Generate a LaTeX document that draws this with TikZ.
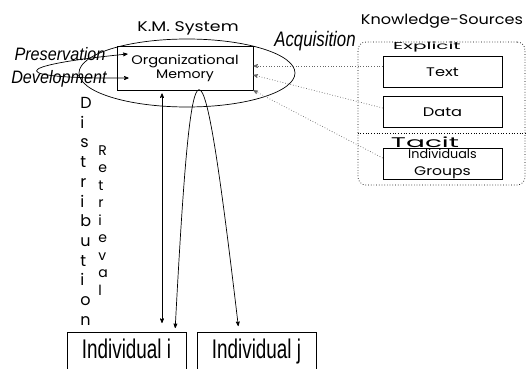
\documentclass[tikz,border=0pt]{standalone}
\usepackage{graphicx}
\usepackage{fontspec}
\setmainfont{Poppins}
\newfontfamily\arialfont{Liberation Sans}
\usetikzlibrary{positioning, arrows, shapes.geometric}
\tikzset{>=stealth', node distance = 40pt, every node/.style={inner sep=0pt},
  box/.style={draw, rectangle, minimum width=119pt, minimum height=31pt, align=center, font=\fontsize{12.5}{17}\selectfont},
  person/.style={draw, rectangle, anchor=north, minimum width=119pt, inner ysep=7pt, text depth=30pt, font=\arialfont\fontsize{27}{27}\selectfont},
  phase/.style={anchor=base, font=\arialfont\itshape\fontsize{18}{18}\selectfont},
  source/.style={->, dotted, black!60},
  letters/.style={anchor=north west, align=left}}
\newcommand{\narrow}[1]{\scalebox{0.7}[1]{#1}}
\newcommand{\wide}[2][1.25]{\scalebox{#1}[1]{#2}}

\begin{document}
\begin{tikzpicture}[x=1pt, y=-1pt, line width=0.7pt]
    \useasboundingbox (0,0) rectangle (528,369);
    \clip (0,0) rectangle (528,369);
    % K.M. system
    \node[ellipse, draw, minimum width=216pt, minimum height=68pt] (kms) at (187,73) {};
    \node[anchor=base, font=\fontsize{14}{14}\selectfont] (kmlabel) at (188,32) {\wide[1.24]{K.M. System}};
    \node[draw, rectangle, minimum width=136pt, minimum height=44pt, align=center, font=\fontsize{12.5}{14}\selectfont] (mem) at (185,68) {\wide[1.17]{Organizational}\\\wide[1.13]{Memory}};
    \node[phase, xscale=0.9] (pres) at (60,61) {Preservation};
    \node[phase, xscale=0.9] (dev) at (59,84) {Development};
    \node[phase, font=\arialfont\itshape\fontsize{21}{21}\selectfont, xscale=0.8] (acq) at (315,47) {Acquisition};
    % sources
    \node[draw, dotted, rounded corners=8pt, minimum width=167pt, minimum height=143pt] (ks) at (441.5,113.5) {};
    \node[anchor=base, font=\fontsize{14}{14}\selectfont] (kslabel) at (442,25) {\wide[1.15]{Knowledge-Sources}};
    \draw[dotted] ([yshift=-19.5pt]ks.west) -- ([yshift=-19.5pt]ks.east);
    \node[anchor=base, font=\fontsize{10}{10}\selectfont, xscale=2] (expl) at (427,50) {Explicit};
    \node[anchor=base, font=\fontsize{14}{14}\selectfont, xscale=2] (tacit) at (425,147) {Tacit};
    \node[box] (text) at (442.5,72) {\wide[1.3]{Text}};
    \node[box, below of=text] (data) {\wide[1.3]{Data}};
    \node[box, below of=data, node distance=52pt] (groups) {\wide[1.02]{Individuals}\\\wide[1.25]{Groups}};
    \draw[source] ([yshift=6pt]text.west) -- ([yshift=2pt]mem.east);
    \draw[source] ([yshift=4pt]data.west) -- ([yshift=-7pt]mem.east);
    \draw[source] ([yshift=6pt]groups.west) -- (mem.south east);
    % individuals
    \node[person] (indi) at (126.5,332) {\narrow{Individual i}};
    \node[person] (indj) at (256.5,332) {\narrow{Individual j}};
    \draw[<->, shorten <=3pt, shorten >=9pt] ([xshift=-23pt]mem.south) -- ([xshift=35.5pt]indi.north);
    \draw[<->, shorten <=4pt, shorten >=6pt] ([xshift=48.5pt]indi.north) .. controls (192,11) and (201,11) .. ([xshift=-17.5pt]indj.north);
    \draw[<->] ([xshift=11pt, yshift=14pt]mem.west) .. controls (6,66) and (7,79) .. ([xshift=12pt, yshift=-10pt]mem.west);
    \node[letters, font=\fontsize{16}{19.7}\selectfont] (distrib) at (80,97) {D\\i\\s\\t\\r\\i\\b\\u\\t\\i\\o\\n};
    \node[letters, font=\fontsize{14}{17.5}\selectfont] (retr) at (98,145) {R\\e\\t\\r\\i\\e\\v\\a\\l};
\end{tikzpicture}
\end{document}
